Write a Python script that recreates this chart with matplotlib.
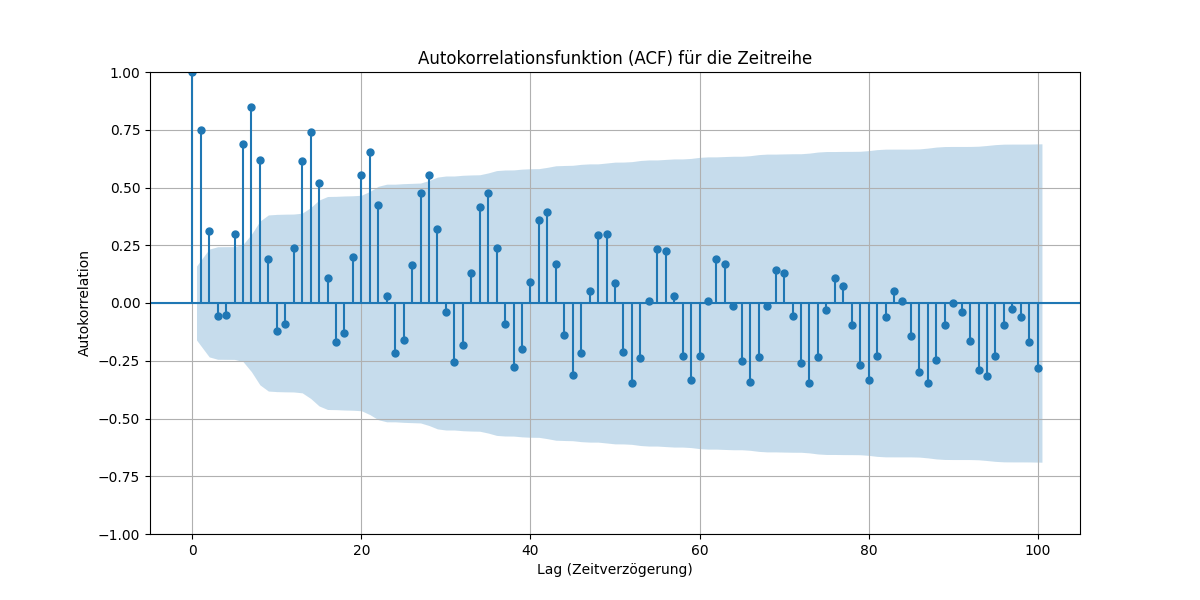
import numpy as np
import matplotlib
matplotlib.use('Agg')
import matplotlib.pyplot as plt

# ACF values, lags 0..100
acf = [1.0, 0.75, 0.31, -0.055, -0.05, 0.30, 0.69, 0.85, 0.62, 0.19,
       -0.12, -0.09, 0.24, 0.615, 0.74, 0.52, 0.11, -0.17, -0.13, 0.20,
       0.555, 0.655, 0.425, 0.03, -0.215, -0.16, 0.165, 0.475, 0.555, 0.32,
       -0.04, -0.255, -0.18, 0.13, 0.415, 0.475, 0.24, -0.09, -0.275, -0.2,
       0.09, 0.36, 0.395, 0.17, -0.14, -0.31, -0.215, 0.05, 0.295, 0.30,
       0.085, -0.21, -0.345, -0.24, 0.01, 0.235, 0.225, 0.03, -0.23, -0.335,
       -0.23, 0.01, 0.19, 0.17, -0.015, -0.25, -0.34, -0.235, -0.015, 0.145,
       0.13, -0.055, -0.26, -0.345, -0.235, -0.03, 0.11, 0.075, -0.095, -0.27,
       -0.335, -0.23, -0.06, 0.05, 0.01, -0.145, -0.30, -0.345, -0.245, -0.095,
       0.0, -0.04, -0.165, -0.29, -0.315, -0.23, -0.095, -0.025, -0.06, -0.17,
       -0.28]
nobs = 150  # series length implied by the band width at lag 1

acf = np.array(acf)
lags = np.arange(len(acf))

# Bartlett confidence band (as statsmodels plot_acf)
varacf = np.ones(len(acf)) / nobs
varacf[0] = 0
varacf[2:] *= 1 + 2 * np.cumsum(acf[1:-1] ** 2)
band = 1.96 * np.sqrt(varacf)

fig = plt.figure(figsize=(12, 6), dpi=100)
ax = fig.add_subplot(1, 1, 1)

bx = lags[1:].astype(float)
bx[0] -= 0.5
bx[-1] += 0.5
ax.fill_between(bx, -band[1:], band[1:], alpha=0.25, color='C0', lw=0)
ax.vlines(lags, 0, acf, color='C0')
ax.plot(lags, acf, 'o', color='C0', markersize=5)
ax.axhline(0, color='C0')

ax.set_ylim(-1, 1)
ax.set_xlim(-5, 105)
ax.set_title('Autokorrelationsfunktion (ACF) für die Zeitreihe')
ax.set_xlabel('Lag (Zeitverzögerung)')
ax.set_ylabel('Autokorrelation')
ax.grid(True)

plt.savefig('out.png')
